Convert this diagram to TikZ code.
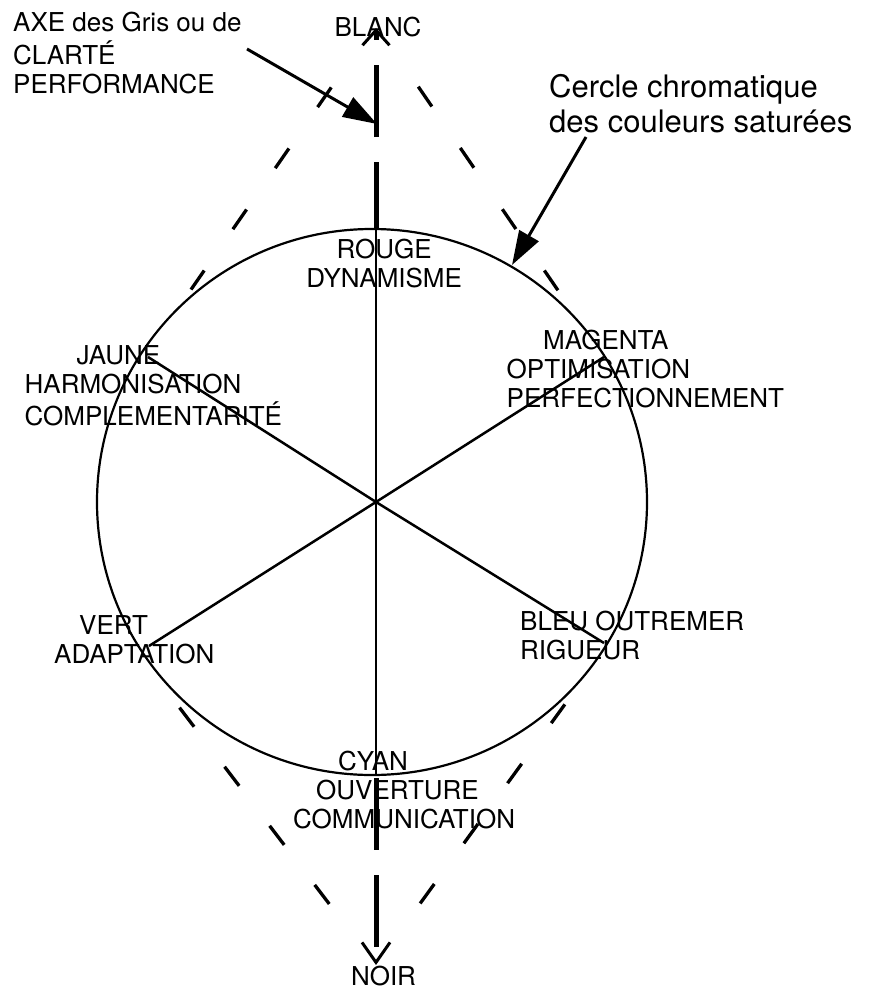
\documentclass[tikz,border=0pt]{standalone}
\usepackage{fontspec}
\setmainfont{TeX Gyre Heros}
\usetikzlibrary{arrows.meta}
\begin{document}
\begin{tikzpicture}[x=1pt,y=-1pt,
  ring/.style={line width=2.2pt},
  spoke/.style={line width=2.5pt},
  axisline/.style={line width=5pt},
  sideline/.style={line width=3.3pt, dash pattern=on 24pt off 50.3pt},
  pointer/.style={line width=3pt, -{Triangle[length=34pt,width=22pt]}},
  lbl/.style={inner sep=0pt, font=\fontsize{26}{29}\selectfont},
  big/.style={inner sep=0pt, font=\fontsize{31}{35}\selectfont}]
\useasboundingbox (0,0) rectangle (868,990);

% key points
\coordinate (cc) at (372,502);
\coordinate (ctr) at (376,502);
\coordinate (ctop) at (376,229);
\coordinate (cbot) at (376,775);
\coordinate (pJ) at (148,357);
\coordinate (pM) at (604,357);
\coordinate (pV) at (149,646);
\coordinate (pB) at (604,643);
\coordinate (blancTip) at (376,28);
\coordinate (noirTip) at (376,965);
\coordinate (topApex) at (375.3,24);
\coordinate (botApex) at (375.6,964.7);
\coordinate (ulEnd) at (144.2,357);
\coordinate (urEnd) at (603.7,357);
\coordinate (llEnd) at (132.5,646);
\coordinate (lrEnd) at (609.5,643);
\coordinate (axeStart) at (247,49);
\coordinate (axeTip) at (377,124);
\coordinate (cerStart) at (586,137);
\coordinate (cerTip) at (512,265);

% chromatic circle
\draw[ring] (cc) ellipse [x radius=275pt, y radius=273pt];

% spokes
\draw[line width=2pt] (ctop) -- (cbot);
\draw[spoke] (ctr) -- (pJ);
\draw[spoke] (ctr) -- (pM);
\draw[spoke] (ctr) -- (pV);
\draw[spoke] (ctr) -- (pB);

% grey axis
\draw[axisline, dash pattern=on 72pt off 25pt, dash phase=5pt,
      -{Straight Barb[length=15pt,width=27pt,line width=3pt]}] (ctop) -- (blancTip);
\draw[axisline, dash pattern=on 72pt off 25pt, dash phase=94pt,
      -{Straight Barb[length=20pt,width=28pt,line width=3pt]}] (cbot) -- (noirTip);

% dashed envelope
\draw[sideline, shorten <=77.2pt, shorten >=82.1pt] (topApex) -- (ulEnd);
\draw[sideline, shorten <=76pt, shorten >=79.9pt] (topApex) -- (urEnd);
\draw[sideline, shorten <=76.4pt, shorten >=77.4pt] (botApex) -- (llEnd);
\draw[sideline, shorten <=75.8pt, shorten >=75.9pt] (botApex) -- (lrEnd);

% pointers
\draw[pointer] (axeStart) -- (axeTip);
\draw[pointer] (cerStart) -- (cerTip);

% labels
\node[lbl, anchor=base west] (axe) at (13,32)
  {\begin{tabular}[t]{@{}l@{}}AXE des Gris ou de\\CLARTÉ\\PERFORMANCE\end{tabular}};
\node[lbl, anchor=base] (blanc) at (378,37) {BLANC};
\node[lbl, anchor=base] (noir) at (383.5,985) {NOIR};
\node[big, anchor=base west] (cercle) at (549,97)
  {\begin{tabular}[t]{@{}l@{}}Cercle chromatique\\des couleurs saturées\end{tabular}};
\node[lbl, anchor=base] (rouge) at (384.2,258)
  {\begin{tabular}[t]{@{}c@{}}ROUGE\\DYNAMISME\end{tabular}};
\node[lbl, anchor=base west] (jaune) at (24.5,364)
  {\begin{tabular}[t]{@{}l@{}}\hspace*{52pt}JAUNE\\HARMONISATION\\COMPLEMENTARITÉ\end{tabular}};
\node[lbl, anchor=base west] (magenta) at (506.5,349)
  {\begin{tabular}[t]{@{}l@{}}\hspace*{36.5pt}MAGENTA\\OPTIMISATION\\PERFECTIONNEMENT\end{tabular}};
\node[lbl, anchor=base west] (bleu) at (520,630)
  {\begin{tabular}[t]{@{}l@{}}BLEU OUTREMER\\RIGUEUR\end{tabular}};
\node[lbl, anchor=base west] (vert) at (54,634)
  {\begin{tabular}[t]{@{}l@{}}\hspace*{25pt}VERT\\ADAPTATION\end{tabular}};
\node[lbl, anchor=base west] (cyan) at (293,770)
  {\begin{tabular}[t]{@{}l@{}}\hspace*{45pt}CYAN\\\hspace*{23pt}OUVERTURE\\COMMUNICATION\end{tabular}};
\end{tikzpicture}
\end{document}
